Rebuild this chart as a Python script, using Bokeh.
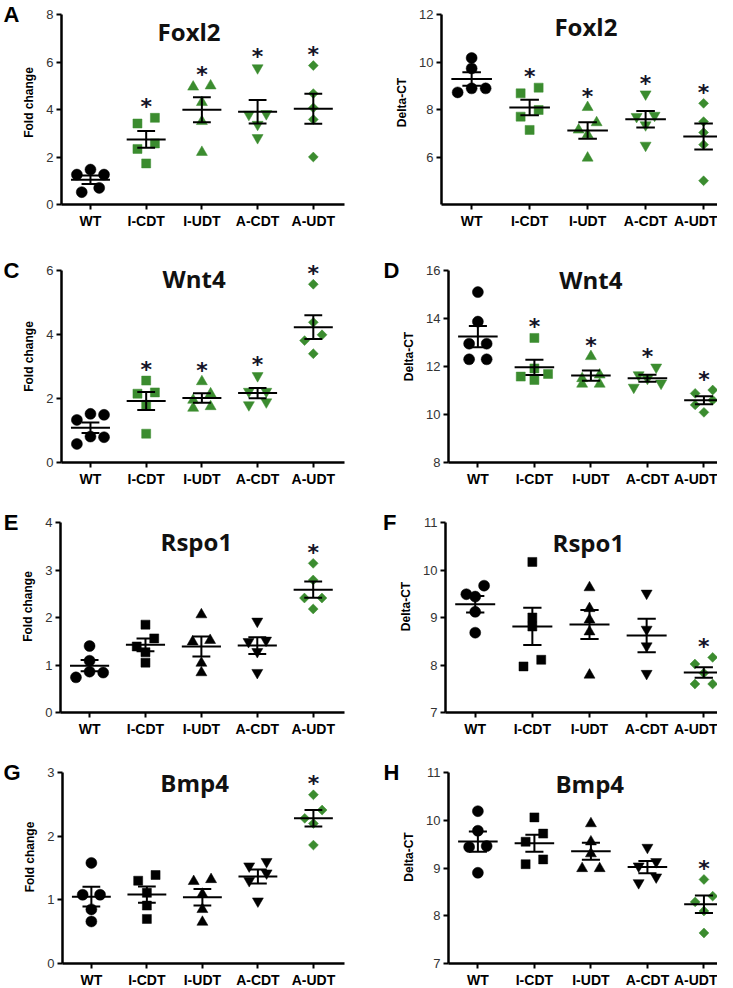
import numpy as np
from bokeh.plotting import figure
from bokeh.layouts import column, row
from bokeh.models import Label, FixedTicker, LinearAxis
from bokeh.embed import file_html
from bokeh.resources import INLINE
from bokeh.core.properties import value

# ---------------- data ----------------
GROUPS = ["WT", "I-CDT", "I-UDT", "A-CDT", "A-UDT"]

FOXL2_FOLD = [[1.47, 1.26, 1.26, 0.70, 0.52],
              [3.65, 3.41, 2.57, 2.34, 1.73],
              [5.00, 4.95, 4.30, 3.50, 2.20],
              [5.75, 3.82, 3.79, 3.37, 2.81],
              [5.85, 4.67, 4.07, 3.58, 2.00]]
FOXL2_DCT = [[10.17, 9.73, 8.89, 8.89, 8.72],
             [8.92, 8.68, 7.98, 7.70, 7.14],
             [8.09, 7.45, 7.14, 6.94, 5.96],
             [8.65, 7.75, 7.70, 7.35, 6.49],
             [8.26, 7.49, 7.03, 6.52, 5.00]]
WNT4_FOLD = [[1.52, 1.49, 1.33, 0.81, 0.79, 0.58],
             [2.56, 2.19, 2.15, 1.80, 0.90],
             [2.53, 2.15, 1.95, 1.75, 1.70],
             [2.71, 2.22, 2.22, 1.89, 1.80],
             [5.57, 4.38, 3.99, 3.81, 3.40]]
WNT4_DCT = [[15.10, 13.87, 12.95, 12.95, 12.30, 12.30],
            [13.19, 11.92, 11.69, 11.58, 11.44],
            [12.42, 11.65, 11.50, 11.27, 11.27],
            [11.97, 11.65, 11.50, 11.30, 11.13],
            [11.02, 10.88, 10.60, 10.40, 10.09]]
RSPO1_FOLD = [[1.40, 1.09, 0.86, 0.84, 0.74],
              [1.85, 1.56, 1.39, 1.27, 1.05],
              [2.06, 1.52, 1.49, 1.04, 0.84],
              [1.92, 1.52, 1.49, 1.28, 0.84],
              [3.14, 2.79, 2.41, 2.41, 2.18]]
RSPO1_DCT = [[9.67, 9.49, 9.44, 9.12, 8.68],
             [10.17, 9.00, 8.81, 8.11, 7.97],
             [9.63, 9.19, 8.95, 8.70, 7.79],
             [9.51, 8.75, 8.40, 7.82],
             [8.16, 8.02, 7.83, 7.60, 7.60]]
BMP4_FOLD = [[1.58, 1.08, 1.08, 0.85, 0.66],
             [1.39, 1.30, 1.11, 0.91, 0.70],
             [1.32, 1.29, 1.09, 0.85, 0.65],
             [1.60, 1.53, 1.42, 1.30, 0.98],
             [2.65, 2.41, 2.28, 2.20, 1.86]]
BMP4_DCT = [[10.19, 9.78, 9.46, 9.44, 8.90],
            [10.06, 9.72, 9.55, 9.18, 9.08],
            [9.93, 9.55, 9.30, 8.99, 8.99],
            [9.43, 9.13, 9.04, 8.81, 8.69],
            [8.76, 8.41, 8.29, 8.10, 7.64]]

# groups significantly different (green + asterisk)
SIG_ALL = [1, 2, 3, 4]
SIG_AUDT = [4]

PANELS = [
    # letter, title, data, y range, y ticks, y label, significant groups
    ("A", "Foxl2", FOXL2_FOLD, (0, 8), [0, 2, 4, 6, 8], "Fold change", SIG_ALL),
    ("", "Foxl2", FOXL2_DCT, (4, 12), [6, 8, 10, 12], "Delta-CT", SIG_ALL),
    ("C", "Wnt4", WNT4_FOLD, (0, 6), [0, 2, 4, 6], "Fold change", SIG_ALL),
    ("D", "Wnt4", WNT4_DCT, (8, 16), [8, 10, 12, 14, 16], "Delta-CT", SIG_ALL),
    ("E", "Rspo1", RSPO1_FOLD, (0, 4), [0, 1, 2, 3, 4], "Fold change", SIG_AUDT),
    ("F", "Rspo1", RSPO1_DCT, (7, 11), [7, 8, 9, 10, 11], "Delta-CT", SIG_AUDT),
    ("G", "Bmp4", BMP4_FOLD, (0, 3), [0, 1, 2, 3], "Fold change", SIG_AUDT),
    ("H", "Bmp4", BMP4_DCT, (7, 11), [7, 8, 9, 10, 11], "Delta-CT", SIG_AUDT),
]

# ---------------- styles / layout ----------------
MARKERS = ["circle", "square", "triangle", "inverted_triangle", "square"]
ANGLES = [0, 0, 0, 0, np.pi / 4]
SIZES = [11, 9, 11, 11, 7]
BLACK = "#000000"
GREEN = "#3b8c2f"
FONT = "Liberation Sans"

COL_W = [380, 337]
COL_BORDER = [(52, 36), (61, 0)]
COL_XR = [(-0.52, 4.56), (-0.52, 4.24)]
ROW_H = [250, 250, 250, 243]
ROW_PAD = [14, 20, 22, 22]        # px of free space above the top tick
ROW_SPAN = [190, 192, 190, 191]   # px of the y axis
TITLE_OFF = [17, 12, 8, 9, 19, 20, 10, 11]      # px below the top tick
TITLE_X = [1.77, 1.97, 1.86, 2.0, 1.91, 1.98, 1.86, 1.98]


def jitter(vals, ppu_y, ppu_x):
    """GraphPad-like spread of points that would overlap vertically."""
    order = sorted(range(len(vals)), key=lambda i: -vals[i])
    clusters, cur = [], []
    for i in order:
        if cur and (vals[cur[0]] - vals[i]) * ppu_y > 9:
            clusters.append(cur)
            cur = []
        cur.append(i)
    clusters.append(cur)
    offs = [0.0] * len(vals)
    for c in clusters:
        k = len(c)
        if k == 1:
            pat = [0]
        elif k == 2:
            pat = [9, -9]
        elif k == 3:
            pat = [0, 14, -14]
        else:
            pat = [(j - (k - 1) / 2) * 14 for j in range(k)]
        for i, o in zip(c, pat):
            offs[i] = o / ppu_x
    return offs


def make_panel(idx):
    letter, title, data, yr, yticks, ylab, sig = PANELS[idx]
    col, r = idx % 2, idx // 2
    bl, br = COL_BORDER[col]
    xr = COL_XR[col]
    fw = COL_W[col] - bl - br
    pad, span = ROW_PAD[r], ROW_SPAN[r]
    bb = ROW_H[r] - pad - span
    ppu_x = fw / (xr[1] - xr[0])
    ppu_y = span / (yr[1] - yr[0])
    y_end = yr[1] + pad / ppu_y

    p = figure(width=COL_W[col], height=ROW_H[r], x_range=xr, y_range=(yr[0], y_end),
               output_backend="svg", toolbar_location=None,
               min_border_left=bl, min_border_right=br,
               min_border_top=0, min_border_bottom=bb)
    p.outline_line_color = None
    p.grid.visible = False
    p.background_fill_color = "white"
    p.border_fill_color = "white"

    for g, vals in enumerate(data):
        color = GREEN if g in sig else BLACK
        offs = jitter(vals, ppu_y, ppu_x)
        xs = [g + o for o in offs]
        p.scatter(xs, vals, marker=MARKERS[g], angle=ANGLES[g], size=SIZES[g],
                  fill_color=color, line_color=color, line_width=0.5)
        m = float(np.mean(vals))
        se = float(np.std(vals, ddof=1) / np.sqrt(len(vals)))
        p.segment(x0=[g - 0.35, g, g - 0.16, g - 0.16],
                  x1=[g + 0.35, g, g + 0.16, g + 0.16],
                  y0=[m, m - se, m + se, m - se],
                  y1=[m, m + se, m + se, m - se],
                  line_color=BLACK, line_width=2)
        if g in sig:
            p.text(x=[g], y=[max(vals)], text=["*"], text_font=value("DejaVu Sans"),
                   text_font_style="bold", text_font_size="22px",
                   text_align="center", text_baseline="middle",
                   y_offset=-11, text_color="#141428")

    p.add_layout(Label(x=TITLE_X[idx], y=yr[1] - TITLE_OFF[idx] / ppu_y, text=title,
                       text_font="Open Sans", text_font_style="bold",
                       text_font_size="24px", text_align="center",
                       text_baseline="middle", text_color="#111111"))

    xa, ya = p.xaxis[0], p.yaxis[0]
    xa.ticker = FixedTicker(ticks=list(range(len(GROUPS))))
    xa.major_label_overrides = {i: gname for i, gname in enumerate(GROUPS)}
    xa.major_label_text_font = FONT
    xa.major_label_text_font_style = "bold"
    xa.major_label_text_font_size = "14px"
    xa.major_label_text_color = "#000000"
    xa.major_label_standoff = 3
    ya.ticker = FixedTicker(ticks=yticks)
    ya.bounds = (yr[0], yr[1])
    ya.major_label_text_font = FONT
    ya.major_label_text_font_size = "13px"
    ya.major_label_text_color = "#333333"
    ya.major_label_standoff = 3
    ya.axis_label = ylab
    ya.axis_label_text_font = FONT
    ya.axis_label_text_font_style = "bold"
    ya.axis_label_text_font_size = "12px"
    ya.axis_label_text_color = "#000000"
    ya.axis_label_standoff = 7
    for ax in (xa, ya):
        ax.axis_line_width = 2.5
        ax.axis_line_color = "#000000"
        ax.major_tick_line_width = 2
        ax.major_tick_line_color = "#000000"
        ax.major_tick_out = 5
        ax.major_tick_in = 0
        ax.minor_tick_line_color = None

    if letter:
        la = LinearAxis(ticker=FixedTicker(ticks=[yr[1]]),
                        major_label_overrides={yr[1]: letter})
        la.axis_line_color = None
        la.major_tick_line_color = None
        la.minor_tick_line_color = None
        la.major_tick_out = 0
        la.major_tick_in = 0
        la.major_label_standoff = 0
        la.major_label_text_font = FONT
        la.major_label_text_font_style = "bold"
        la.major_label_text_font_size = "22px"
        la.major_label_text_color = "#000000"
        p.add_layout(la, "left")
    return p


figs = [make_panel(i) for i in range(len(PANELS))]
layout = column(*[row(figs[2 * r], figs[2 * r + 1]) for r in range(4)])
open("out.html", "w").write(file_html(layout, INLINE))
